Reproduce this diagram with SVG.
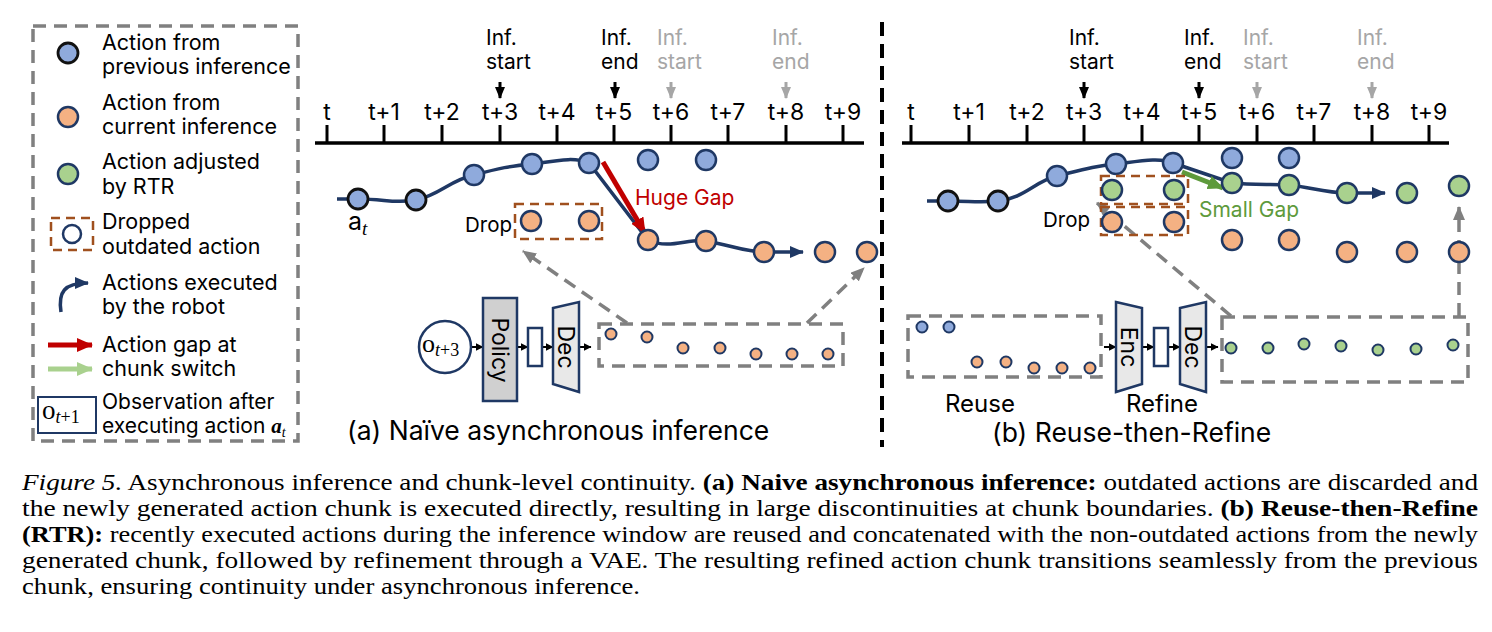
<svg xmlns="http://www.w3.org/2000/svg" width="1492" height="632" viewBox="0 0 1492 632">
<defs>
<style>
.sans{font-family:Inter,"Noto Sans","Liberation Sans",sans-serif;fill:#000}
.serif{font-family:"Liberation Serif","Times New Roman",Times,serif;fill:#000}
.lg{font-size:21.5px}
.tl{font-size:23px;text-anchor:middle}
.inf{font-size:21px}
.gr{fill:#a6a6a6}
.blue{fill:#8faadc;stroke:#1f3864;stroke-width:2.5}
.blueK{fill:#8faadc;stroke:#111;stroke-width:2.8}
.org{fill:#f4b183;stroke:#1f3864;stroke-width:2.5}
.grn{fill:#a9d18e;stroke:#1f3864;stroke-width:2.5}
.sd{stroke-width:2}
.gdash{fill:none;stroke:#808080;stroke-width:3.5;stroke-dasharray:13 8}
.bdash{fill:none;stroke:#a0501e;stroke-width:2.5;stroke-dasharray:9 6}
.traj{fill:none;stroke:#1f3864;stroke-width:3.5}
.blk{fill:none;stroke:#000;stroke-width:2}
</style>
<marker id="mNavy" viewBox="0 0 14 12" refX="13" refY="6" markerWidth="14" markerHeight="12" markerUnits="userSpaceOnUse" orient="auto"><path d="M0,0 L14,6 L0,12 z" fill="#1f3864"/></marker>
<marker id="mRed" viewBox="0 0 16 14" refX="15" refY="7" markerWidth="16" markerHeight="14" markerUnits="userSpaceOnUse" orient="auto"><path d="M0,0 L16,7 L0,14 z" fill="#c00000"/></marker>
<marker id="mGreen" viewBox="0 0 16 14" refX="15" refY="7" markerWidth="16" markerHeight="14" markerUnits="userSpaceOnUse" orient="auto"><path d="M0,0 L16,7 L0,14 z" fill="#5e9a3c"/></marker>
<marker id="mLGreen" viewBox="0 0 16 14" refX="15" refY="7" markerWidth="16" markerHeight="14" markerUnits="userSpaceOnUse" orient="auto"><path d="M0,0 L16,7 L0,14 z" fill="#a9d18e"/></marker>
<marker id="mGray" viewBox="0 0 14 12" refX="13" refY="6" markerWidth="14" markerHeight="12" markerUnits="userSpaceOnUse" orient="auto"><path d="M0,0 L14,6 L0,12 z" fill="#808080"/></marker>
<marker id="mBlk" viewBox="0 0 8 8" refX="7.5" refY="4" markerWidth="8" markerHeight="8" markerUnits="userSpaceOnUse" orient="auto"><path d="M0,0 L8,4 L0,8 z" fill="#000"/></marker>
<marker id="mInf" viewBox="0 0 12 10" refX="11" refY="5" markerWidth="12" markerHeight="10" markerUnits="userSpaceOnUse" orient="auto"><path d="M0,0 L12,5 L0,10 z" fill="#000"/></marker>
<marker id="mInfG" viewBox="0 0 12 10" refX="11" refY="5" markerWidth="12" markerHeight="10" markerUnits="userSpaceOnUse" orient="auto"><path d="M0,0 L12,5 L0,10 z" fill="#a6a6a6"/></marker>
</defs>
<rect width="1492" height="632" fill="#fff"/>

<!-- Legend -->
<g id="legend">
<rect x="33" y="26" width="265" height="415" class="gdash"/>
<circle cx="68" cy="53" r="10" class="blueK"/>
<text class="sans lg" x="102" y="50">Action from</text>
<text class="sans lg" x="102" y="74">previous inference</text>
<circle cx="68" cy="117" r="10" class="org"/>
<text class="sans lg" x="102" y="110">Action from</text>
<text class="sans lg" x="102" y="134">current inference</text>
<circle cx="68" cy="174" r="10" class="grn"/>
<text class="sans lg" x="102" y="169">Action adjusted</text>
<text class="sans lg" x="102" y="194">by RTR</text>
<rect x="51" y="218" width="42" height="32" class="bdash"/>
<circle cx="72" cy="234" r="9" fill="#fff" stroke="#1f3864" stroke-width="2.5"/>
<text class="sans lg" x="102" y="229">Dropped</text>
<text class="sans lg" x="102" y="254">outdated action</text>
<path d="M61,312 C58,292 64,283 88,283" class="traj" marker-end="url(#mNavy)"/>
<text class="sans lg" x="102" y="290">Actions executed</text>
<text class="sans lg" x="102" y="314">by the robot</text>
<line x1="48" y1="345" x2="92" y2="345" stroke="#c00000" stroke-width="5" marker-end="url(#mRed)"/>
<text class="sans lg" x="102" y="352">Action gap at</text>
<line x1="48" y1="369" x2="92" y2="369" stroke="#a9d18e" stroke-width="5" marker-end="url(#mLGreen)"/>
<text class="sans lg" x="102" y="376">chunk switch</text>
<rect x="38" y="397" width="58" height="36" fill="#fff" stroke="#1f3864" stroke-width="2"/>
<text class="serif" x="42" y="419" font-size="27">o<tspan font-size="18" dy="4" font-style="italic">t</tspan><tspan font-size="18">+1</tspan></text>
<text class="sans" x="102" y="409" font-size="21">Observation after</text>
<text class="sans" x="102" y="433" font-size="21">executing action <tspan class="serif" font-weight="bold" font-style="italic">a</tspan><tspan class="serif" font-style="italic" font-size="14" dy="4">t</tspan></text>
</g>

<!-- Separator -->
<line x1="882" y1="22" x2="882" y2="447" stroke="#000" stroke-width="4" stroke-dasharray="14 8"/>

<!-- Panel A timeline -->
<g id="timelineA">
<line x1="315" y1="143" x2="864" y2="143" stroke="#000" stroke-width="3.5"/>
<g stroke="#000" stroke-width="3">
<line x1="327" y1="125" x2="327" y2="143"/><line x1="384" y1="125" x2="384" y2="143"/><line x1="442" y1="125" x2="442" y2="143"/><line x1="500" y1="125" x2="500" y2="143"/><line x1="557" y1="125" x2="557" y2="143"/><line x1="614" y1="125" x2="614" y2="143"/><line x1="671" y1="125" x2="671" y2="143"/><line x1="728" y1="125" x2="728" y2="143"/><line x1="786" y1="125" x2="786" y2="143"/><line x1="843" y1="125" x2="843" y2="143"/>
</g>
<text class="sans tl" x="327" y="120">t</text><text class="sans tl" x="384" y="120">t+1</text><text class="sans tl" x="442" y="120">t+2</text><text class="sans tl" x="500" y="120">t+3</text><text class="sans tl" x="557" y="120">t+4</text><text class="sans tl" x="614" y="120">t+5</text><text class="sans tl" x="671" y="120">t+6</text><text class="sans tl" x="728" y="120">t+7</text><text class="sans tl" x="786" y="120">t+8</text><text class="sans tl" x="843" y="120">t+9</text>
<text class="sans inf" x="486" y="45">Inf.</text><text class="sans inf" x="486" y="69">start</text>
<line x1="500" y1="82" x2="500" y2="98" stroke="#000" stroke-width="3" marker-end="url(#mInf)"/>
<text class="sans inf" x="601" y="45">Inf.</text><text class="sans inf" x="601" y="69">end</text>
<line x1="615" y1="82" x2="615" y2="98" stroke="#000" stroke-width="3" marker-end="url(#mInf)"/>
<text class="sans inf gr" x="657" y="45">Inf.</text><text class="sans inf gr" x="657" y="69">start</text>
<line x1="671" y1="82" x2="671" y2="98" stroke="#a6a6a6" stroke-width="3" marker-end="url(#mInfG)"/>
<text class="sans inf gr" x="772" y="45">Inf.</text><text class="sans inf gr" x="772" y="69">end</text>
<line x1="786" y1="82" x2="786" y2="98" stroke="#a6a6a6" stroke-width="3" marker-end="url(#mInfG)"/>
</g>

<!-- Panel A connectors -->
<g id="connectorsA">
<path d="M337,199 L358,199 C385,199 395,204 416,200 C440,195 450,180 474,175 C500,168 510,166 532,164 C560,160 575,157 589,163 L648,240 C670,250 688,238 706,241 C730,245 745,252 764,252 L803,252" class="traj" marker-end="url(#mNavy)"/>
<line x1="603" y1="162" x2="645" y2="233" stroke="#c00000" stroke-width="5" marker-end="url(#mRed)"/>
<line x1="627" y1="323" x2="523" y2="251" class="gdash" stroke-width="3.5" marker-end="url(#mGray)"/>
<line x1="807" y1="323" x2="864" y2="268" class="gdash" stroke-width="3.5" marker-end="url(#mGray)"/>
<line x1="471" y1="347" x2="483" y2="347" class="blk" marker-end="url(#mBlk)"/>
<line x1="517" y1="347" x2="528" y2="347" class="blk" marker-end="url(#mBlk)"/>
<line x1="542" y1="347" x2="553" y2="347" class="blk" marker-end="url(#mBlk)"/>
<line x1="579" y1="347" x2="591" y2="347" class="blk" marker-end="url(#mBlk)"/>
</g>

<!-- Panel A nodes -->
<g id="pointsA">
<circle cx="358" cy="199" r="10" class="blueK"/>
<circle cx="416" cy="200" r="10" class="blueK"/>
<circle cx="474" cy="175" r="10" class="blue"/>
<circle cx="532" cy="164" r="10" class="blue"/>
<circle cx="589" cy="163" r="10" class="blue"/>
<circle cx="648" cy="160" r="10" class="blue"/>
<circle cx="706" cy="160" r="10" class="blue"/>
<rect x="515" y="204" width="87" height="35" class="bdash"/>
<circle cx="531" cy="221" r="10" class="org"/>
<circle cx="589" cy="221" r="10" class="org"/>
<text class="sans" x="512" y="232" font-size="20.5" text-anchor="end">Drop</text>
<circle cx="648" cy="240" r="10" class="org"/>
<circle cx="706" cy="241" r="10" class="org"/>
<circle cx="764" cy="252" r="10" class="org"/>
<circle cx="825" cy="252" r="10" class="org"/>
<circle cx="867" cy="252" r="10" class="org"/>
<text class="sans" x="348" y="230" font-size="25">a<tspan class="serif" font-style="italic" font-size="19" dy="5">t</tspan></text>
<text class="sans" x="635" y="205" font-size="21" style="fill:#c00000">Huge Gap</text>
</g>

<g id="obsA">
<circle cx="445" cy="347" r="26" fill="#fff" stroke="#1f3864" stroke-width="2.5"/>
<text class="serif" x="422" y="352" font-size="26">o<tspan font-size="18" dy="4" font-style="italic">t</tspan><tspan font-size="18">+3</tspan></text>
</g>
<g id="policyA">
<rect x="483" y="298" width="34" height="103" fill="#d0d0d0" stroke="#1f3864" stroke-width="2.5"/>
<text class="sans" x="500" y="350" font-size="23" text-anchor="middle" dominant-baseline="central" transform="rotate(90 500 350)">Policy</text>
</g>
<g id="latentA"><rect x="528" y="328" width="14" height="38" fill="#fff" stroke="#1f3864" stroke-width="2.5"/></g>
<g id="decA">
<path d="M553,308 L579,302 L579,392 L553,384 z" fill="#e8e8e8" stroke="#1f3864" stroke-width="2.5"/>
<text class="sans" x="566" y="347" font-size="23" text-anchor="middle" dominant-baseline="central" transform="rotate(90 566 347)">Dec</text>
</g>
<g id="chunkA">
<rect x="599" y="324" width="244" height="42" class="gdash"/>
<circle cx="611" cy="334" r="5.5" class="org sd"/>
<circle cx="647" cy="337" r="5.5" class="org sd"/>
<circle cx="683" cy="348" r="5.5" class="org sd"/>
<circle cx="720" cy="348" r="5.5" class="org sd"/>
<circle cx="756" cy="354" r="5.5" class="org sd"/>
<circle cx="792" cy="354" r="5.5" class="org sd"/>
<circle cx="828" cy="354" r="5.5" class="org sd"/>
</g>
<text class="sans" x="347" y="440" font-size="26.5">(a) Naïve asynchronous inference</text>

<!-- Panel B timeline -->
<g id="timelineB">
<line x1="902" y1="143" x2="1449" y2="143" stroke="#000" stroke-width="3.5"/>
<g stroke="#000" stroke-width="3">
<line x1="911" y1="125" x2="911" y2="143"/><line x1="969" y1="125" x2="969" y2="143"/><line x1="1027" y1="125" x2="1027" y2="143"/><line x1="1084" y1="125" x2="1084" y2="143"/><line x1="1142" y1="125" x2="1142" y2="143"/><line x1="1199" y1="125" x2="1199" y2="143"/><line x1="1257" y1="125" x2="1257" y2="143"/><line x1="1314" y1="125" x2="1314" y2="143"/><line x1="1372" y1="125" x2="1372" y2="143"/><line x1="1429" y1="125" x2="1429" y2="143"/>
</g>
<text class="sans tl" x="911" y="120">t</text><text class="sans tl" x="969" y="120">t+1</text><text class="sans tl" x="1027" y="120">t+2</text><text class="sans tl" x="1084" y="120">t+3</text><text class="sans tl" x="1142" y="120">t+4</text><text class="sans tl" x="1199" y="120">t+5</text><text class="sans tl" x="1257" y="120">t+6</text><text class="sans tl" x="1314" y="120">t+7</text><text class="sans tl" x="1372" y="120">t+8</text><text class="sans tl" x="1429" y="120">t+9</text>
<text class="sans inf" x="1069" y="45">Inf.</text><text class="sans inf" x="1069" y="69">start</text>
<line x1="1084" y1="82" x2="1084" y2="98" stroke="#000" stroke-width="3" marker-end="url(#mInf)"/>
<text class="sans inf" x="1184" y="45">Inf.</text><text class="sans inf" x="1184" y="69">end</text>
<line x1="1199" y1="82" x2="1199" y2="98" stroke="#000" stroke-width="3" marker-end="url(#mInf)"/>
<text class="sans inf gr" x="1243" y="45">Inf.</text><text class="sans inf gr" x="1243" y="69">start</text>
<line x1="1257" y1="82" x2="1257" y2="98" stroke="#a6a6a6" stroke-width="3" marker-end="url(#mInfG)"/>
<text class="sans inf gr" x="1357" y="45">Inf.</text><text class="sans inf gr" x="1357" y="69">end</text>
<line x1="1372" y1="82" x2="1372" y2="98" stroke="#a6a6a6" stroke-width="3" marker-end="url(#mInfG)"/>
</g>

<!-- Panel B connectors -->
<g id="connectorsB">
<path d="M927,201 L948,201 C970,201 980,203 998,201 C1025,198 1035,181 1057,176 C1085,169 1095,166 1116,164 C1140,161 1160,157 1173,163 L1232,183 C1252,185 1270,184 1289,185 C1310,187 1325,193 1347,193 L1385,193" class="traj" marker-end="url(#mNavy)"/>
<line x1="1182" y1="172" x2="1223" y2="188" stroke="#5e9a3c" stroke-width="5" marker-end="url(#mGreen)"/>
<line x1="1231" y1="316" x2="1097" y2="203" class="gdash" stroke-width="3.5" marker-end="url(#mGray)"/>
<line x1="1459" y1="316" x2="1459" y2="207" class="gdash" stroke-width="3.5" marker-end="url(#mGray)"/>
<line x1="1104" y1="347" x2="1116" y2="347" class="blk" marker-end="url(#mBlk)"/>
<line x1="1142" y1="347" x2="1154" y2="347" class="blk" marker-end="url(#mBlk)"/>
<line x1="1168" y1="347" x2="1180" y2="347" class="blk" marker-end="url(#mBlk)"/>
<line x1="1206" y1="347" x2="1218" y2="347" class="blk" marker-end="url(#mBlk)"/>
</g>

<!-- Panel B nodes -->
<g id="pointsB">
<circle cx="948" cy="201" r="10" class="blueK"/>
<circle cx="998" cy="201" r="10" class="blueK"/>
<circle cx="1057" cy="176" r="10" class="blue"/>
<circle cx="1116" cy="164" r="10" class="blue"/>
<circle cx="1173" cy="163" r="10" class="blue"/>
<circle cx="1232" cy="158" r="10" class="blue"/>
<circle cx="1289" cy="158" r="10" class="blue"/>
<rect x="1101" y="176" width="87" height="28" class="bdash"/>
<rect x="1101" y="207" width="87" height="28" class="bdash"/>
<circle cx="1112" cy="190" r="10" class="grn"/>
<circle cx="1174" cy="190" r="10" class="grn"/>
<circle cx="1112" cy="222" r="10" class="org"/>
<circle cx="1174" cy="222" r="10" class="org"/>
<text class="sans" x="1090" y="227" font-size="20.5" text-anchor="end">Drop</text>
<circle cx="1232" cy="183" r="10" class="grn"/>
<circle cx="1289" cy="185" r="10" class="grn"/>
<circle cx="1347" cy="193" r="10" class="grn"/>
<circle cx="1407" cy="193" r="10" class="grn"/>
<circle cx="1459" cy="186" r="10" class="grn"/>
<circle cx="1232" cy="240" r="10" class="org"/>
<circle cx="1289" cy="240" r="10" class="org"/>
<circle cx="1347" cy="252" r="10" class="org"/>
<circle cx="1407" cy="252" r="10" class="org"/>
<circle cx="1459" cy="252" r="10" class="org"/>
<text class="sans" x="1199" y="217" font-size="21" style="fill:#5e9a3c">Small Gap</text>
</g>

<g id="reuseB">
<rect x="908" y="316" width="193" height="61" class="gdash"/>
<circle cx="922" cy="327" r="5.5" class="blue sd"/>
<circle cx="949" cy="327" r="5.5" class="blue sd"/>
<circle cx="977" cy="362" r="5.5" class="org sd"/>
<circle cx="1006" cy="362" r="5.5" class="org sd"/>
<circle cx="1034" cy="368" r="5.5" class="org sd"/>
<circle cx="1062" cy="368" r="5.5" class="org sd"/>
<circle cx="1090" cy="368" r="5.5" class="org sd"/>
<text class="sans" x="945" y="412" font-size="24">Reuse</text>
</g>
<g id="encB">
<path d="M1116,302 L1142,308 L1142,384 L1116,392 z" fill="#e8e8e8" stroke="#1f3864" stroke-width="2.5"/>
<text class="sans" x="1129" y="347" font-size="23" text-anchor="middle" dominant-baseline="central" transform="rotate(90 1129 347)">Enc</text>
</g>
<g id="latentB"><rect x="1154" y="328" width="14" height="38" fill="#fff" stroke="#1f3864" stroke-width="2.5"/></g>
<g id="decB">
<path d="M1180,308 L1206,302 L1206,392 L1180,384 z" fill="#e8e8e8" stroke="#1f3864" stroke-width="2.5"/>
<text class="sans" x="1193" y="347" font-size="23" text-anchor="middle" dominant-baseline="central" transform="rotate(90 1193 347)">Dec</text>
</g>
<text class="sans" x="1162" y="412" font-size="24" text-anchor="middle">Refine</text>
<g id="chunkB">
<rect x="1222" y="317" width="246" height="65" class="gdash"/>
<circle cx="1231" cy="348" r="5.5" class="grn sd"/>
<circle cx="1268" cy="348" r="5.5" class="grn sd"/>
<circle cx="1304" cy="344" r="5.5" class="grn sd"/>
<circle cx="1341" cy="346" r="5.5" class="grn sd"/>
<circle cx="1378" cy="350" r="5.5" class="grn sd"/>
<circle cx="1416" cy="349" r="5.5" class="grn sd"/>
<circle cx="1453" cy="345" r="5.5" class="grn sd"/>
</g>
<text class="sans" x="992" y="442" font-size="26.5">(b) Reuse-then-Refine</text>

<!-- Caption -->
<g id="caption" font-family="'Liberation Serif','Times New Roman',Times,serif" font-size="23.3">
<text x="22" y="490" textLength="1456" lengthAdjust="spacingAndGlyphs"><tspan font-style="italic">Figure 5.</tspan> Asynchronous inference and chunk-level continuity. <tspan font-weight="bold">(a) Naive asynchronous inference:</tspan> outdated actions are discarded and</text>
<text x="22" y="516" textLength="1456" lengthAdjust="spacingAndGlyphs">the newly generated action chunk is executed directly, resulting in large discontinuities at chunk boundaries. <tspan font-weight="bold">(b) Reuse-then-Refine</tspan></text>
<text x="22" y="542" textLength="1456" lengthAdjust="spacingAndGlyphs"><tspan font-weight="bold">(RTR):</tspan> recently executed actions during the inference window are reused and concatenated with the non-outdated actions from the newly</text>
<text x="22" y="568" textLength="1456" lengthAdjust="spacingAndGlyphs">generated chunk, followed by refinement through a VAE. The resulting refined action chunk transitions seamlessly from the previous</text>
<text x="22" y="594" textLength="618" lengthAdjust="spacingAndGlyphs">chunk, ensuring continuity under asynchronous inference.</text>
</g>
</svg>
